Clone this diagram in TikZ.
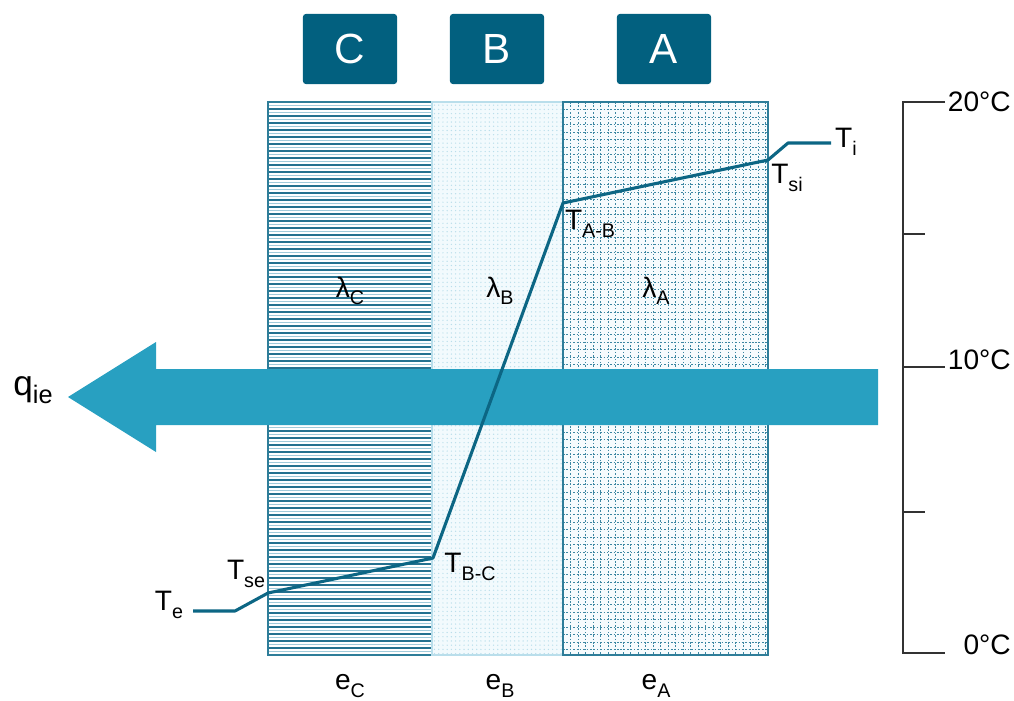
\documentclass[tikz,border=0pt]{standalone}
\usepackage{fontspec}
\setmainfont{Liberation Sans}
\usetikzlibrary{patterns}
\definecolor{boxteal}{RGB}{2,96,127}
\definecolor{lineteal}{RGB}{12,102,132}
\definecolor{arrowblue}{RGB}{40,160,193}
\definecolor{edgeteal}{RGB}{46,125,153}
\definecolor{hatchdark}{RGB}{36,113,143}
\definecolor{hatchlight}{RGB}{160,202,218}
\definecolor{bfill}{RGB}{242,250,253}
\definecolor{bdot}{RGB}{185,222,235}
\definecolor{afill}{RGB}{246,251,253}
\definecolor{agrid}{RGB}{60,135,162}
\definecolor{axisgrey}{RGB}{50,50,50}

\newcommand{\lowtxt}[1]{\raisebox{-0.5ex}{\fontsize{14}{14}\selectfont #1}}

\begin{document}
\begin{tikzpicture}[
    x=0.025cm, y=-0.025cm,
    hdr/.style={fill=boxteal, rounded corners=2pt, minimum width=2.35cm, minimum height=1.75cm,
                text=white, font=\fontsize{30}{30}\selectfont},
    lbl/.style={font=\fontsize{20}{20}\selectfont, inner sep=0pt},
    temp/.style={lineteal, line width=2.2pt, line join=round},
    tick/.style={axisgrey, line width=1.3pt},
    stripe/.style={hatchdark, line width=0.75pt},
    stripelight/.style={hatchlight, line width=0.6pt},
    gridline/.style={agrid, line width=0.45pt, dash pattern=on 1.1pt off 1.3pt}
]
\useasboundingbox (0,0) rectangle (1014,700);

% layer headers
\node[hdr] (boxC) at (350,49) {C};
\node[hdr] (boxB) at (497,49) {B};
\node[hdr] (boxA) at (664,49) {A};

% layer C : horizontal hatching
\fill[white] (268,102) rectangle (432,655);
\foreach \y in {105.5,112.5,...,652} \draw[stripelight] (268,\y) -- (432,\y);
\foreach \y in {102,109,...,655} \draw[stripe] (268,\y) -- (432,\y);
\draw[edgeteal, line width=0.8pt] (268,102) rectangle (432,655);

% layer B : fine dots
\fill[bfill] (432,102) rectangle (563,655);
\fill[pattern=dots, pattern color=bdot] (432,102) rectangle (563,655);
\draw[bdot, line width=0.8pt] (432,102) rectangle (563,655);

% layer A : dotted grid
\fill[afill] (563,102) rectangle (768,655);
\foreach \x in {570.5,578,...,768} \draw[gridline] (\x,102) -- (\x,655);
\foreach \y in {109.5,117,...,655} \draw[gridline] (563,\y) -- (768,\y);
\draw[edgeteal, line width=0.8pt] (563,102) rectangle (768,655);

% heat flow arrow
\fill[arrowblue] (68,397) -- (156,342) -- (156,369) -- (878,369) -- (878,425)
    -- (156,425) -- (156,452) -- cycle;
\node[lbl, font=\fontsize{25}{25}\selectfont] (qie) at (33,390)
    {q\raisebox{-0.45ex}{\fontsize{18}{18}\selectfont ie}};

% temperature profile
\coordinate (Te) at (193,611);
\coordinate (Tbend) at (235,611);
\coordinate (Tse) at (268,593);
\coordinate (TBC) at (433,558);
\coordinate (TAB) at (563,203);
\coordinate (Tsi) at (768,160);
\coordinate (Tbend2) at (788,143);
\coordinate (Ti) at (831,143);
\draw[temp] (Te) -- (Tbend) -- (Tse) -- (TBC) -- (TAB) -- (Tsi) -- (Tbend2) -- (Ti);

\node[lbl] (lTe) at (169,605) {T\lowtxt{e}};
\node[lbl] (lTse) at (246,574) {T\lowtxt{se}};
\node[lbl] (lTBC) at (470,567) {T\lowtxt{B-C}};
\node[lbl] (lTAB) at (590,224) {T\lowtxt{A-B}};
\node[lbl] (lTsi) at (787,178) {T\lowtxt{si}};
\node[lbl] (lTi) at (846,142) {T\lowtxt{i}};

% conductivities and thicknesses
\node[lbl] (lamC) at (350,291) {λ\lowtxt{C}};
\node[lbl] (lamB) at (500,291) {λ\lowtxt{B}};
\node[lbl] (lamA) at (656,291) {λ\lowtxt{A}};
\node[lbl] (eC) at (350,686) {e\lowtxt{C}};
\node[lbl] (eB) at (500,686) {e\lowtxt{B}};
\node[lbl] (eA) at (656,686) {e\lowtxt{A}};

% temperature scale
\draw[tick] (945,102) -- (903,102) -- (903,653) -- (945,653);
\draw[tick] (903,234) -- (925,234);
\draw[tick] (903,367) -- (945,367);
\draw[tick] (903,512) -- (925,512);
\node[lbl, anchor=east] (t20) at (1011,102) {20°C};
\node[lbl, anchor=east] (t10) at (1011,360) {10°C};
\node[lbl, anchor=east] (t0) at (1011,645) {0°C};

\end{tikzpicture}
\end{document}
